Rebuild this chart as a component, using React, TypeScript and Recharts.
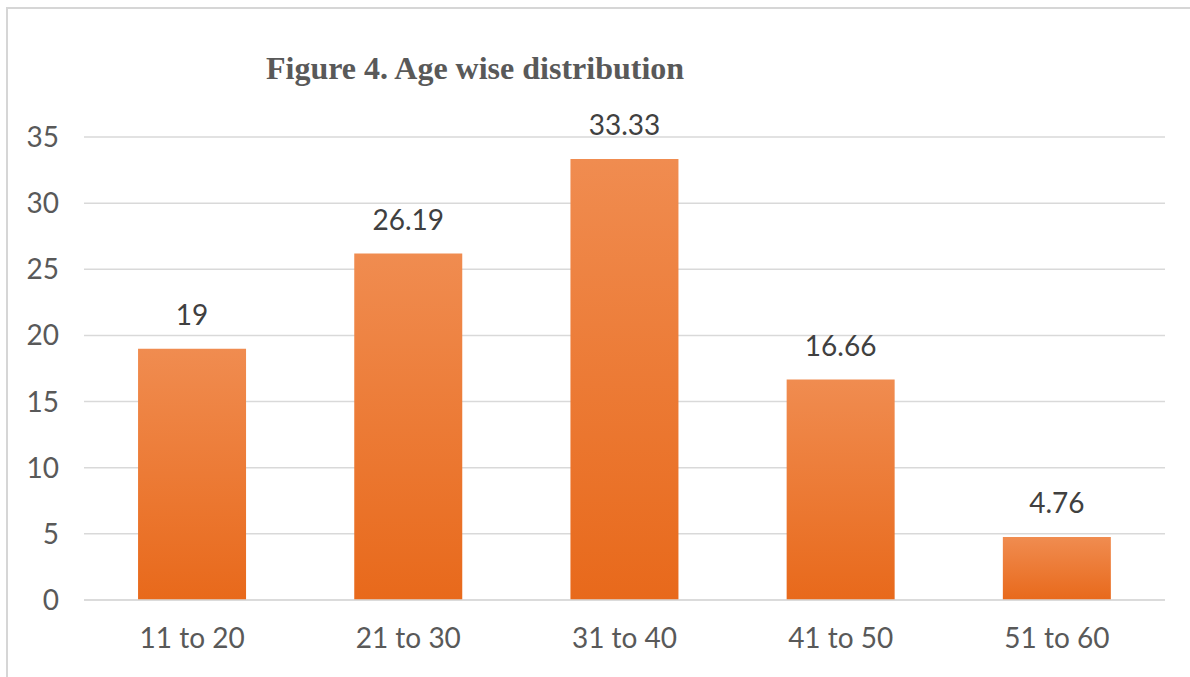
import { BarChart, Bar, XAxis, YAxis, CartesianGrid, LabelList } from 'recharts';

const ageGroups = ['11 to 20', '21 to 30', '31 to 40', '41 to 50', '51 to 60'];
const percentages = [19, 26.19, 33.33, 16.66, 4.76];
const yTicks = [0, 5, 10, 15, 20, 25, 30, 35];

const data = ageGroups.map((name, i) => ({ name, value: percentages[i] }));

const axisFont = { fontSize: 28, fill: '#595959', fontFamily: 'Lato, sans-serif' };

export default function App() {
    return (
        <div style={{ position: 'absolute', left: 0, top: 0, width: 1190, height: 677, background: '#FFFFFF', overflow: 'hidden' }}>
            {/* frame: only top and left edges show in the source image */}
            <div style={{ position: 'absolute', left: 6, top: 7, width: 1190, height: 700, borderTop: '2px solid #D6D6D6', borderLeft: '2px solid #D6D6D6' }} />
            <div style={{ position: 'absolute', left: 266, top: 50, fontFamily: '"Liberation Serif", serif', fontWeight: 'bold', fontSize: 32, color: '#595959', whiteSpace: 'nowrap' }}>
                Figure 4. Age wise distribution
            </div>
            <div style={{ position: 'absolute', left: 0, top: 0 }}>
                <BarChart width={1190} height={677} data={data} margin={{ top: 137, right: 25, left: 0, bottom: 27 }} barCategoryGap="25%">
                    <defs>
                        <linearGradient id="barFill" x1="0" y1="0" x2="0" y2="1">
                            <stop offset="0%" stopColor="#F08C50" />
                            <stop offset="100%" stopColor="#E8691B" />
                        </linearGradient>
                    </defs>
                    <CartesianGrid vertical={false} stroke="#D9D9D9" strokeWidth={1.5} />
                    <XAxis dataKey="name" axisLine={{ stroke: '#D9D9D9', strokeWidth: 1.5 }} tickLine={false} tickSize={0} tickMargin={28} height={50} tick={axisFont} />
                    <YAxis domain={[0, 35]} ticks={yTicks} width={84} axisLine={false} tickLine={false} tickSize={0} tickMargin={25} tick={axisFont} />
                    <Bar dataKey="value" fill="url(#barFill)" isAnimationActive={false}>
                        <LabelList dataKey="value" position="top" offset={24} style={{ fontSize: 28, fill: '#404040', fontFamily: 'Lato, sans-serif' }} />
                    </Bar>
                </BarChart>
            </div>
        </div>
    );
}
